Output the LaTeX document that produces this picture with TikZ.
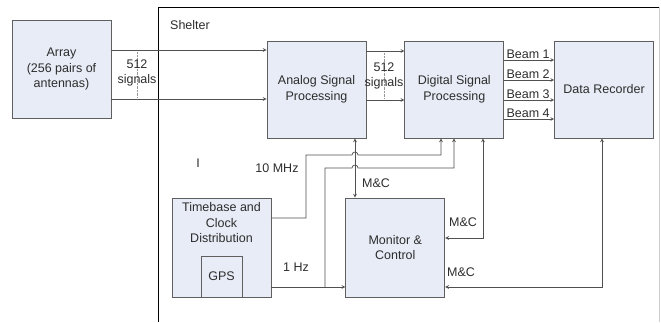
\documentclass[tikz,border=0pt]{standalone}
\usepackage{fontspec}
\setmainfont{Liberation Sans}
\usetikzlibrary{positioning}

\definecolor{boxfill}{RGB}{232,236,246}
\definecolor{boxline}{RGB}{95,95,95}
\definecolor{wirecol}{RGB}{80,80,80}
\definecolor{txtcol}{RGB}{45,45,45}

\tikzset{
  block/.style={draw=boxline, fill=boxfill, line width=0.8pt,
    minimum width=99pt, minimum height=97pt, inner sep=0pt,
    align=center, text=txtcol},
  lbl/.style={inner sep=0pt, align=center, text=txtcol},
  wire/.style={draw=wirecol, line width=0.7pt},
}

\begin{document}
\begin{tikzpicture}[x=1pt, y=-1pt, >=stealth,
    font=\fontsize{12.5pt}{15.5pt}\selectfont]
        \useasboundingbox (0,0) rectangle (661,322);

        % 参数
        \def\hx{355}     % M&C vertical line
        \def\tenx{306}   % 10 MHz riser
        \def\onex{325}   % 1 Hz riser
        \def\hop{3pt}    % hop radius

        % Shelter
        \draw[black, line width=0.8pt] (158,322) -- (158,7) -- (659,7);
        \draw[gray!40, line width=0.8pt] (659,7) -- (659,322);
        \node[lbl, anchor=west] (shelter) at (170,25) {Shelter};

        % blocks
        \node[block, minimum height=98pt] (arr) at (61.5,69) {Array\\(256 pairs of\\antennas)};
        \node[block] (asp) at (316.5,89.5) {Analog Signal\\Processing};
        \node[block, right=38pt of asp] (dsp) {Digital Signal\\Processing};
        \node[block, right=50pt of dsp] (rec) {Data Recorder};
        \node[block, minimum height=99pt] (tb) at (221.5,247.5) {};
        \node[lbl, below=5pt of tb.north] (tbtext) {Timebase and\\Clock\\Distribution};
        \node[block, minimum size=41pt, anchor=south] (gps) at (tb.south) {GPS};
        \node[block, minimum height=99pt, right=74pt of tb] (mc) {Monitor \&\\Control};

        % Array -> ASP
        \foreach \y in {50,99}
            \draw[wire, ->] (arr.east |- 0,\y) -- (asp.west |- 0,\y);
        \draw[wirecol!60, densely dotted] (137,52) -- (137,98);
        \node[lbl] (sig1) at (137,73) {512\\signals};

        % ASP -> DSP
        \foreach \y in {51,100}
            \draw[wire, ->] (asp.east |- 0,\y) -- (dsp.west |- 0,\y);
        \draw[wirecol!60, densely dotted] (384,53) -- (384,99);
        \node[lbl] (sig2) at (384,76) {512\\signals};

        % beams
        \foreach \y/\n in {60/1,80/2,100/3,119/4}
            \draw[wire, ->] (dsp.east |- 0,\y) -- (rec.west |- 0,\y)
            node[lbl, pos=0, anchor=south west, xshift=2pt, yshift=1pt] {Beam \n};

        % M&C ASP <-> Monitor
        \coordinate (mcx) at (\hx,0);
        \draw[wire, <->] (asp.south -| mcx) -- (mc.north -| mcx);
        \node[lbl, anchor=west] (mc1) at (362,183) {M\&C};

        % 10 MHz
        \draw[wire, ->] (tb.east |- 0,218) -- (\tenx,218) -- (\tenx,155)
            -- (\hx-3,155) arc[start angle=180, end angle=0, radius=\hop]
            -- (441,155) -- (dsp.south -| 441,0);
        \node[lbl] (ten) at (277,168) {10 MHz};

        % 1 Hz
        \draw[wire, ->] (tb.east |- 0,287) -- (mc.west |- 0,287);
        \draw[wire, ->] (\onex,287) -- (\onex,168)
            -- (\hx-3,168) arc[start angle=180, end angle=0, radius=\hop]
            -- (454,168) -- (dsp.south -| 454,0);
        \node[lbl] (one) at (296,267) {1 Hz};

        % M&C DSP / Recorder <-> Monitor
        \draw[wire, <->] (dsp.south -| 483,0) -- (483,238) -- (mc.east |- 0,238);
        \node[lbl] (mc2) at (463,222) {M\&C};
        \draw[wire, <->] (rec.south -| 602,0) -- (602,287) -- (mc.east |- 0,287);
        \node[lbl] (mc3) at (461,272) {M\&C};

        \node[lbl] (mark) at (198,163) {I};

    \end{tikzpicture}
\end{document}
